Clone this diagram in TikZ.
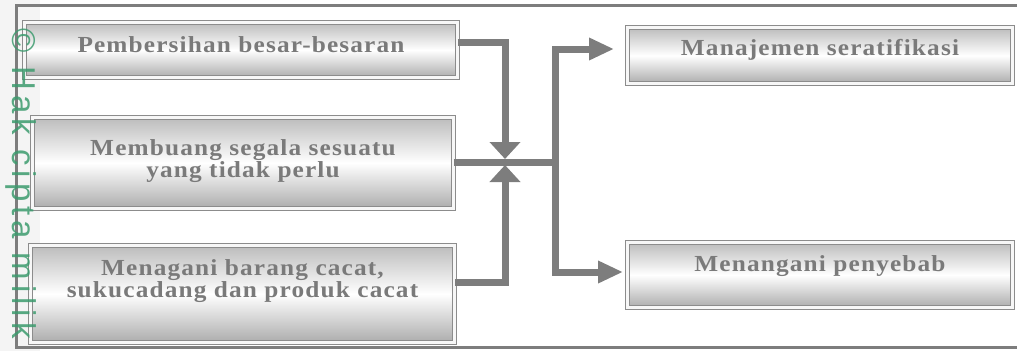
\documentclass[tikz,border=0pt]{standalone}
\usepackage{fontspec}
\setmainfont{Liberation Serif}
\newfontfamily\boxfont{Liberation Serif}[FakeStretch=1.1,LetterSpace=5]
\newfontfamily\wmfont{Liberation Sans}[LetterSpace=15]
\usetikzlibrary{arrows.meta,calc}
\definecolor{linegray}{RGB}{125,125,125}
\definecolor{txtgray}{RGB}{122,122,122}
\definecolor{bordergray}{RGB}{140,140,140}
\definecolor{boxtop}{RGB}{188,188,188}
\definecolor{boxbot}{RGB}{172,172,172}
\definecolor{wmgreen}{RGB}{60,155,110}
\definecolor{stripgray}{RGB}{244,244,244}
\pgfdeclarehorizontalshading{edgeshade}{100bp}{color(0bp)=(gray!70); color(3bp)=(white); color(97bp)=(white); color(100bp)=(gray!70)}
\tikzset{
  box/.style={rectangle, draw=bordergray, line width=0.9pt, double=gray!6, double distance=3pt,
    top color=boxtop, bottom color=boxbot, middle color=white, inner sep=0pt,
    path picture={\shade[shading=edgeshade, blend mode=multiply]
      (path picture bounding box.south west) rectangle (path picture bounding box.north east);}},
  txt/.style={font=\boxfont\bfseries\fontsize{23}{21}\selectfont, text=txtgray, align=center, inner sep=0pt},
  conn/.style={draw=linegray, line width=7pt},
  vtip/.style={-{Triangle[length=17pt,width=30pt]}},
  htip/.style={-{Triangle[length=25pt,width=21pt]}},
  frame/.style={draw=linegray, line width=3pt},
  wm/.style={font=\wmfont\fontsize{33}{33}\selectfont, text=wmgreen, text opacity=0.85, inner sep=0pt}
}
\begin{document}
\begin{tikzpicture}[x=1pt,y=-1pt]
\useasboundingbox (0,0) rectangle (1017,351);
\fill[stripgray] (0,0) rectangle (40,351);
% outer frame
\draw[frame] (1017,5) -- (16,5) -- (16,347) -- (1017,347);
% boxes
\node[box, minimum width=433pt, minimum height=55pt] (b1) at (241,50) {};
\node[box, minimum width=421pt, minimum height=91pt] (b2) at (243,163) {};
\node[box, minimum width=424pt, minimum height=97pt] (b3) at (242.5,294) {};
\node[box, minimum width=385pt, minimum height=56pt] (b4) at (820,55.5) {};
\node[box, minimum width=385pt, minimum height=65pt] (b5) at (820,275) {};
% texts
\node[txt] (t1) at ([yshift=5pt]b1.center) {Pembersihan besar-besaran};
\node[txt] (t2) at ([yshift=2pt]b2.center) {Membuang segala sesuatu\\yang tidak perlu};
\node[txt] (t3) at ([yshift=13pt]b3.center) {Menagani barang cacat,\\sukucadang dan produk cacat};
\node[txt] (t4) at ([yshift=6pt]b4.center) {Manajemen seratifikasi};
\node[txt] (t5) at ([yshift=9pt]b5.center) {Menangani penyebab};
% junction coordinates
\coordinate (jd) at (505,159);
\coordinate (ju) at (505,165);
\coordinate (jm) at (555,162);
% connectors
\draw[conn, vtip] ([yshift=8pt]b1.east) -| (jd);
\draw[conn, vtip] ([yshift=12pt]b3.east) -| (ju);
\draw[conn] ([yshift=1pt]b2.east) -- (jm);
\draw[conn, htip, shorten >=13pt] (jm) |- ([yshift=6.5pt]b4.west);
\draw[conn, htip, shorten >=4pt] (jm) |- ([yshift=3pt]b5.west);
% watermark
\node[wm, rotate=-90, anchor=west] (wmark) at (21,28) {© Hak cipta milik};
\end{tikzpicture}
\end{document}
